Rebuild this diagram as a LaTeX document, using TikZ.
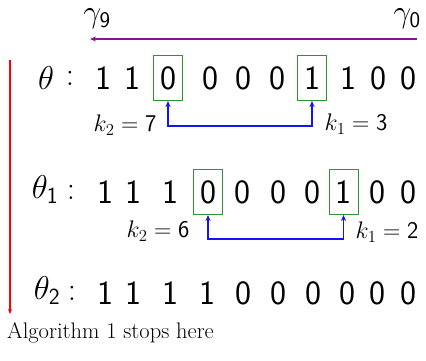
\RequirePackage{fix-cm}
\documentclass[tikz,border=0pt]{standalone}
\usetikzlibrary{arrows.meta}
\definecolor{boxgreen}{RGB}{50,145,50}
\definecolor{arrpurple}{RGB}{140,20,140}
\definecolor{arrblue}{RGB}{20,20,250}
\begin{document}
\begin{tikzpicture}[x=1pt,y=-1pt,
  dig/.style={inner sep=0pt,font=\fontsize{34}{34}\selectfont\sffamily},
  boxed/.style={dig,draw=boxgreen,line width=1pt,minimum width=29pt,minimum height=45pt},
  lab/.style={inner sep=0pt,font=\fontsize{33}{33}\selectfont},
  klab/.style={inner sep=0pt,font=\fontsize{24}{24}\selectfont},
  link/.style={arrblue,line width=1.8pt,{Stealth[length=6pt,width=5pt]}-{Stealth[length=6pt,width=5pt]}}]
\useasboundingbox (0,0) rectangle (426,360);
% gamma header
\node[lab,font=\fontsize{32}{32}\selectfont] (g9) at (97,19) {$\gamma_{\mathsf{9}}$};
\node[lab,font=\fontsize{32}{32}\selectfont] (g0) at (407,19) {$\gamma_{\mathsf{0}}$};
\coordinate (pa) at (417,39);
\coordinate (pb) at (90,39);
\draw[arrpurple,line width=1.6pt,-{Stealth[length=6pt,width=5pt]}] (pa) -- (pb);
% red arrow
\coordinate (ra) at (10,60);
\coordinate (rb) at (10,314);
\draw[red,line width=1.4pt,-{Stealth[length=5pt,width=4pt]}] (ra) -- (rb);
% row 1
\node[lab] (t0) at (46,78) {$\theta$};
\node[lab] (c0) at (70,78) {:};
\foreach \x/\d/\s [count=\i] in {103/1/dig,132/1/dig,168/0/boxed,210/0/dig,243/0/dig,277/0/dig,312/1/boxed,348/1/dig,378/0/dig,408/0/dig}
  \node[\s] (a\i) at (\x,78) {\d};
\draw[link] (a3.south) -- ++(0,25) -| (a7.south);
\node[klab] (k2a) at (125,125) {$k_2=\mathsf{7}$};
\node[klab] (k1a) at (356,124) {$k_1=\mathsf{3}$};
% row 2
\node[lab] (t1) at (45,190) {$\theta_{\mathsf{1}}$};
\node[lab] (c1) at (71,192) {:};
\foreach \x/\d/\s [count=\i] in {105/1/dig,133/1/dig,170/1/dig,208/0/boxed,242/0/dig,278/0/dig,312/0/dig,343.5/1/boxed,377/0/dig,408/0/dig}
  \node[\s] (b\i) at (\x,192) {\d};
\draw[link] (b4.south) -- ++(0,24) -| (b8.south);
\node[klab] (k2b) at (158,231) {$k_2=\mathsf{6}$};
\node[klab] (k1b) at (387,232) {$k_1=\mathsf{2}$};
% row 3
\node[lab] (t2) at (47,291) {$\theta_{\mathsf{2}}$};
\node[lab] (c2) at (72,293) {:};
\foreach \x/\d [count=\i] in {105/1,133/1,170/1,207/1,243/0,278/0,313/0,347/0,377/0,408/0}
  \node[dig] (c\i) at (\x,293) {\d};
\node[inner sep=0pt,anchor=west,font=\fontsize{22.5}{26}\selectfont] (alg) at (7,333) {Algorithm 1 stops here};
\end{tikzpicture}
\end{document}
